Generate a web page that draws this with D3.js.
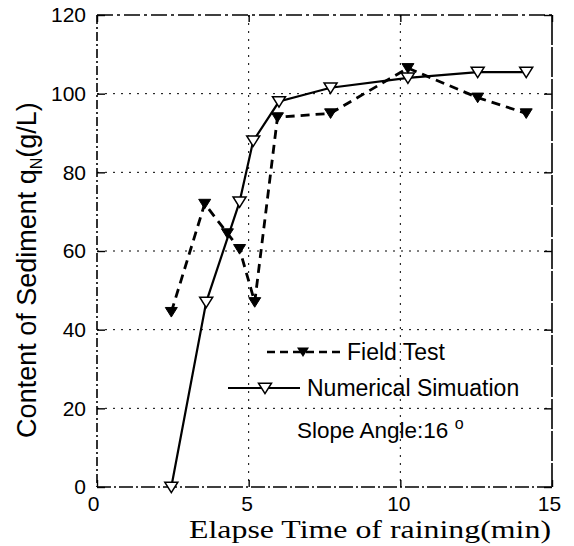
<!DOCTYPE html>
<html>
<head>
<meta charset="utf-8">
<script src="https://cdn.jsdelivr.net/npm/d3@7"></script>
<style>
  body { margin: 0; background: #fff; }
  svg { display: block; }
  text { fill: #000; }
</style>
</head>
<body>
<svg id="chart" width="574" height="546"></svg>
<script>
// values
const xTicks = [0, 5, 10, 15];
const yTicks = [0, 20, 40, 60, 80, 100, 120];
const gridX = [5, 10];
const gridY = [20, 40, 60, 80, 100];

const fieldTime = [2.45, 3.55, 4.3, 4.7, 5.2, 5.95, 7.7, 10.25, 12.55, 14.15];
const fieldValue = [44.5, 72, 64.5, 60.5, 47, 94, 95, 106.5, 99, 95];

const simTime = [2.45, 3.6, 4.7, 5.15, 6.0, 7.7, 10.25, 12.55, 14.15];
const simValue = [0, 47, 72.5, 88, 98, 101.5, 104, 105.5, 105.5];

const seriesNames = ["Field Test", "Numerical Simuation"];

const margin = { top: 15, right: 22, bottom: 59, left: 97 };
const W = 574, H = 546;
const w = W - margin.left - margin.right;
const h = H - margin.top - margin.bottom;

const svg = d3.select("#chart");
const g = svg.append("g").attr("transform", `translate(${margin.left},${margin.top})`);

const x = d3.scaleLinear().domain([0, 15]).range([0, w]);
const y = d3.scaleLinear().domain([0, 120]).range([h, 0]);

const sans = "'Liberation Sans', Arial, sans-serif";
const serif = "'Liberation Serif', 'Times New Roman', serif";

// dotted grid
g.selectAll(".gy").data(gridY).enter().append("line")
    .attr("x1", 0).attr("x2", w)
    .attr("y1", d => y(d)).attr("y2", d => y(d))
    .attr("stroke", "#000").attr("stroke-width", 1)
    .attr("stroke-dasharray", "2,6");
g.selectAll(".gx").data(gridX).enter().append("line")
    .attr("y1", 0).attr("y2", h)
    .attr("x1", d => x(d)).attr("x2", d => x(d))
    .attr("stroke", "#000").attr("stroke-width", 1)
    .attr("stroke-dasharray", "2,6");

// frame, dash-dot like the scan
const frame = [
    [0, 0, 0, h, "9,3,2,3"],
    [0, h, w, h, "14,3,2,3"],
    [0, 0, w, 0, "16,4,3,4"],
    [w, 0, w, h, "30,2"]
];
frame.forEach(f => {
    g.append("line").attr("x1", f[0]).attr("y1", f[1]).attr("x2", f[2]).attr("y2", f[3])
        .attr("stroke", "#000").attr("stroke-width", 1.6).attr("stroke-dasharray", f[4]);
});

// axes with inward ticks
const yAxis = g.append("g").call(d3.axisLeft(y).tickValues(yTicks).tickSize(-8).tickPadding(11));
const yAxisR = g.append("g").attr("transform", `translate(${w},0)`)
    .call(d3.axisRight(y).tickValues(yTicks).tickSize(-8).tickFormat(""));
const xAxis = g.append("g").attr("transform", `translate(0,${h})`)
    .call(d3.axisBottom(x).tickValues(xTicks).tickSize(-7).tickPadding(9));
const xAxisT = g.append("g")
    .call(d3.axisTop(x).tickValues(xTicks).tickSize(-7).tickFormat(""));

[yAxis, yAxisR, xAxis, xAxisT].forEach(a => {
    a.select(".domain").remove();
    a.selectAll(".tick line").attr("stroke", "#000").attr("stroke-width", 1.4);
    a.selectAll("text").attr("font-family", sans).attr("font-size", 21).attr("fill", "#000");
});
xAxis.selectAll(".tick text").attr("dx", d => d === 0 ? -4 : (d === 15 ? -3 : -2));

// lines
const fieldData = fieldTime.map((t, i) => ({ t, v: fieldValue[i] }));
const simData = simTime.map((t, i) => ({ t, v: simValue[i] }));
const line = d3.line().x(d => x(d.t)).y(d => y(d.v));

g.append("path").datum(simData).attr("d", line)
    .attr("fill", "none").attr("stroke", "#000").attr("stroke-width", 2.2);
g.append("path").datum(fieldData).attr("d", line)
    .attr("fill", "none").attr("stroke", "#000").attr("stroke-width", 2.8)
    .attr("stroke-dasharray", "9,6");

const tri = s => `M${-s},${-s * 0.75}L${s},${-s * 0.75}L0,${s * 0.85}Z`;

g.selectAll(".sim").data(simData).enter().append("path")
    .attr("transform", d => `translate(${x(d.t)},${y(d.v)})`)
    .attr("d", tri(6.5))
    .attr("fill", "#fff").attr("stroke", "#000").attr("stroke-width", 1.5);
g.selectAll(".fld").data(fieldData).enter().append("path")
    .attr("transform", d => `translate(${x(d.t)},${y(d.v)})`)
    .attr("d", tri(6))
    .attr("fill", "#000").attr("stroke", "#000").attr("stroke-width", 1);

// legend
const lg = svg.append("g");
lg.append("line").attr("x1", 267).attr("x2", 343).attr("y1", 352).attr("y2", 352)
    .attr("stroke", "#000").attr("stroke-width", 2.6).attr("stroke-dasharray", "8,5");
lg.append("path").attr("transform", "translate(303,352)").attr("d", tri(6)).attr("fill", "#000");
lg.append("text").attr("x", 347).attr("y", 352).attr("dy", "0.35em")
    .attr("font-family", sans).attr("font-size", 23).text(seriesNames[0]);

lg.append("line").attr("x1", 228).attr("x2", 300).attr("y1", 388).attr("y2", 388)
    .attr("stroke", "#000").attr("stroke-width", 1.8);
lg.append("path").attr("transform", "translate(265,388)").attr("d", tri(6.5))
    .attr("fill", "#fff").attr("stroke", "#000").attr("stroke-width", 1.5);
lg.append("text").attr("x", 307).attr("y", 388).attr("dy", "0.35em")
    .attr("font-family", sans).attr("font-size", 23).text(seriesNames[1]);

const slope = svg.append("text").attr("x", 297).attr("y", 430).attr("dy", "0.35em")
    .attr("font-family", sans).attr("font-size", 22.5);
slope.append("tspan").text("Slope Angle:16 ");
slope.append("tspan").attr("dy", -9).attr("font-size", 16).text("o");

// axis titles
svg.append("text").attr("x", 370).attr("y", 538)
    .attr("text-anchor", "middle").attr("font-family", serif).attr("font-size", 25)
    .attr("textLength", 362).attr("lengthAdjust", "spacingAndGlyphs")
    .text("Elapse Time of raining(min)");

const yl = svg.append("text").attr("transform", "translate(36,270) rotate(-90)")
    .attr("text-anchor", "middle").attr("font-family", sans).attr("font-size", 27);
yl.append("tspan").text("Content of Sediment q");
yl.append("tspan").attr("dy", 6).attr("font-size", 16).text("N");
yl.append("tspan").attr("dy", -6).text("(g/L)");
</script>
</body>
</html>
